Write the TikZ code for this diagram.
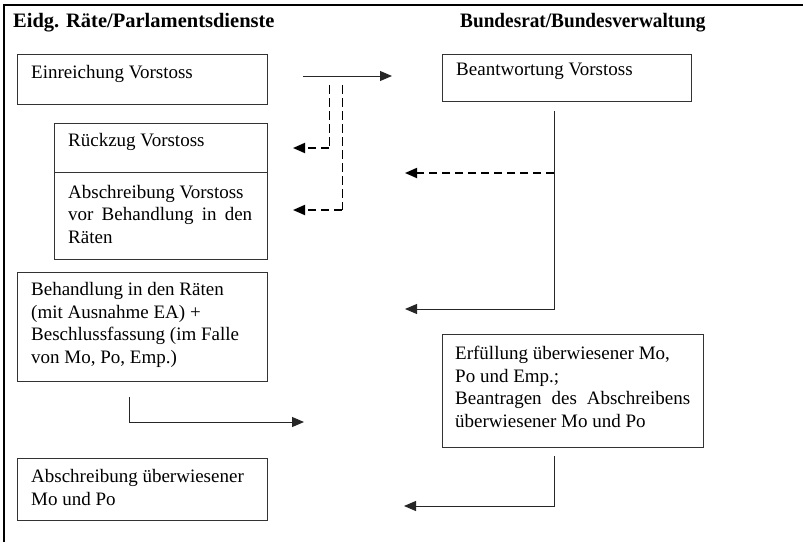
\documentclass[tikz,border=0pt]{standalone}
\usepackage{graphicx}
\usepackage{fontspec}
\setmainfont{Liberation Serif}
\usetikzlibrary{arrows.meta}

\begin{document}
\begin{tikzpicture}[line cap=butt,line join=miter,x=1pt,y=-1pt,
    >={Triangle[length=12pt,width=10pt]},
    box/.style={draw=black!80,line width=0.9pt,inner sep=0pt},
    txt/.style={anchor=base west,inner sep=0pt,align=left,font=\fontsize{19}{22.4}\selectfont},
    head/.style={anchor=base west,inner sep=0pt,font=\fontsize{20.5}{24}\selectfont\bfseries},
    frame/.style={line width=2pt},
    flow/.style={->,line width=1pt,black!85},
    back/.style={->,line width=1.8pt,dash pattern=on 8pt off 5pt},
    guide/.style={line width=0.8pt,dash pattern=on 9pt off 4pt}]
                \useasboundingbox (0,0) rectangle (803,542);
                \draw [frame] (4,542) -- (4,5) -- (803,5);
                \node [head] (hparl) at (13,27) {Eidg. Räte/Parlamentsdienste};
                \node [head] (hbund) at (460,27) {\scalebox{0.94}[1]{Bundesrat/Bundesverwaltung}};
                \node [box,minimum width=250,minimum height=50] (einr) at (142,79) {};
                \node [box,minimum width=249,minimum height=47] (antw) at (566.5,77.5) {};
                \node [box,minimum width=213,minimum height=49] (rueck) at (160.5,147.5) {};
                \node [box,minimum width=213,minimum height=87] (abv) at (160.5,215.5) {};
                \node [box,minimum width=250,minimum height=109] (beh) at (142,326.5) {};
                \node [box,minimum width=261,minimum height=113] (erf) at (572.5,390.5) {};
                \node [box,minimum width=250,minimum height=62] (absue) at (142,489) {};
                % multi-line texts: placed at the baseline of their last line
                \node [txt] (einr-t) at (31,78) {Einreichung Vorstoss};
                \node [txt] (antw-t) at (456,75) {Beantwortung Vorstoss};
                \node [txt] (rueck-t) at (68,146) {Rückzug Vorstoss};
                \node [txt] (abv-t) at (68,243) {Abschreibung Vorstoss\\\makebox[184pt][s]{vor Behandlung in den}\\Räten};
                \node [txt] (beh-t) at (31,363) {Behandlung in den Räten\\(mit Ausnahme EA) +\\Beschlussfassung (im Falle\\von Mo, Po, Emp.)};
                \node [txt] (erf-t) at (455,427) {Erfüllung überwiesener Mo,\\Po und Emp.;\\\makebox[235pt][s]{Beantragen des Abschreibens}\\überwiesener Mo und Po};
                \node [txt] (absue-t) at (31,505) {Abschreibung überwiesener\\Mo und Po};
                \coordinate (e1) at (303,76);
                \coordinate (e2) at (392,76);
                \coordinate (g1) at (329,85);
                \coordinate (g1e) at (293,148);
                \coordinate (g2) at (342,85);
                \coordinate (g2e) at (293,210);
                \coordinate (a1) at (554,111);
                \coordinate (a1e) at (405,309);
                \coordinate (a2) at (554,173);
                \coordinate (a2e) at (405,173);
                \coordinate (b1) at (129,397);
                \coordinate (b1e) at (304,422);
                \coordinate (f1) at (554,456);
                \coordinate (f1e) at (404,506);
                \draw [flow] (e1) -- (e2);
                \draw [guide] (g1) -- (g1 |- g1e);
                \draw [back] (g1 |- g1e) -- (g1e);
                \draw [guide] (g2) -- (g2 |- g2e);
                \draw [back] (g2 |- g2e) -- (g2e);
                \draw [flow] (a1) |- (a1e);
                \draw [back] (a2) -- (a2e);
                \draw [flow] (b1) |- (b1e);
                \draw [flow] (f1) |- (f1e);
\end{tikzpicture}
\end{document}
